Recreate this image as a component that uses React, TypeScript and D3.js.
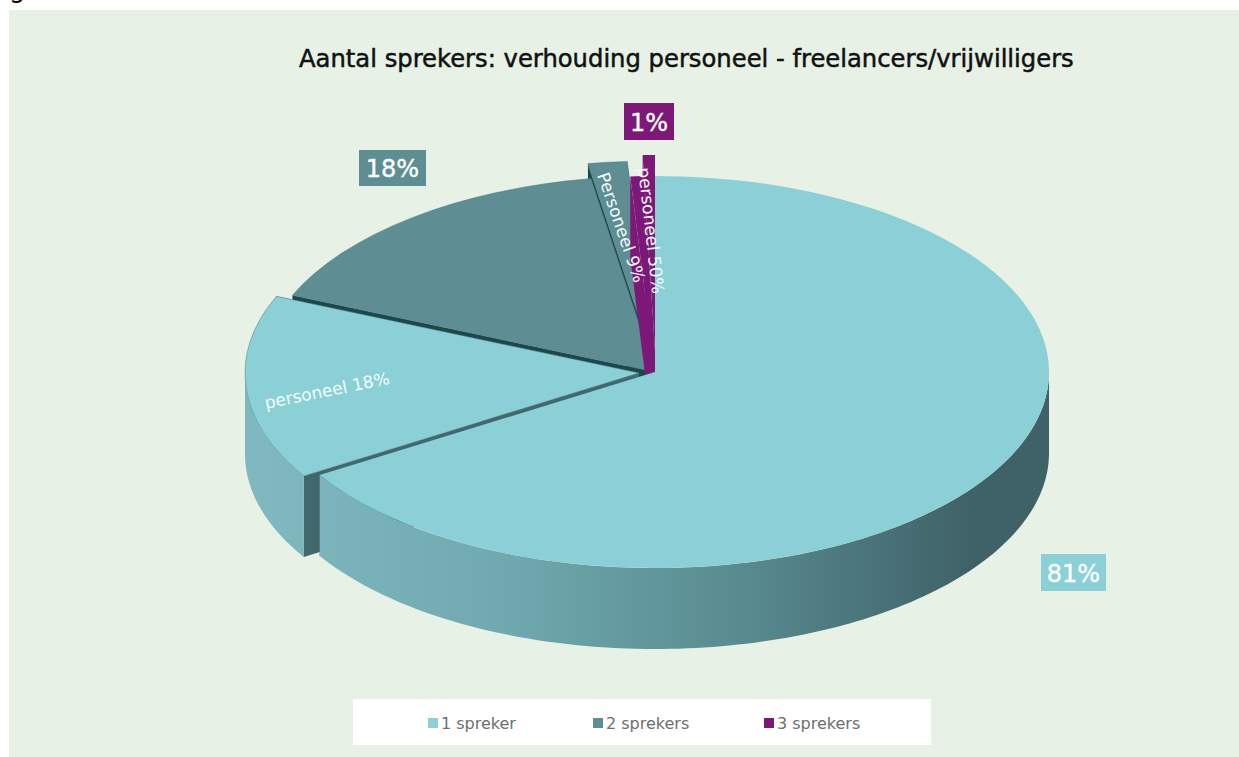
import React from "react";
import * as d3 from "d3";

const titleText = "Aantal sprekers: verhouding personeel - freelancers/vrijwilligers";
const sliceNames = ["1 spreker", "personeel 18%", "2 sprekers", "Personeel 9%", "3 sprekers", "personeel 50%"];
const sliceValues = [66.2, 15.2, 16, 1.6, 0.5, 0.5];
const sliceColors = ["#8ad0d6", "#8ad0d6", "#5e8e93", "#5e8e93", "#7e1878", "#7e1878"];
const sliceCut = ["#3f6268", "#42686e", "#1d474d", "#1d474d", "#7e1878", "#7e1878"];
const sliceEdge = ["none", "#4f7f86", "#4f7f86", "#4f7f86", "none", "none"];
const explodeX = [0, -16, 0, -3, 0, 0];
const explodeY = [0, 1, 0, -15, 0, -21];
const legendNames = ["1 spreker", "2 sprekers", "3 sprekers"];
const legendColors = ["#8ad0d6", "#5e8e93", "#7e1878"];
const legendX = [428, 593, 764];
const paintOrder = [5, 3, 2, 4, 1, 0];

const W = 1239, H = 757;
const cx = 655, cy = 372, rx = 394, ry = 196, depth = 81;
const FONT = "'DejaVu Sans', sans-serif";

const pieGen = d3.pie<number>().sort(null).value((d) => d);
const arcs = pieGen(sliceValues);
const arcGen = d3.arc<any>().innerRadius(0).outerRadius(rx);
const lineGen = d3.line();

function rim(a: number, dx: number, dy: number, down = 0): [number, number] {
  return [cx + dx + rx * Math.sin(a), cy + dy - ry * Math.cos(a) + down];
}

function wallPath(a0: number, a1: number, dx: number, dy: number) {
  const s = Math.max(a0, Math.PI / 2), e = Math.min(a1, (3 * Math.PI) / 2);
  if (e <= s) return null;
  const angles = d3.range(0, 121).map((i) => s + ((e - s) * i) / 120);
  const top = angles.map((a) => rim(a, dx, dy));
  const bottom = angles.slice().reverse().map((a) => rim(a, dx, dy, depth));
  return lineGen([...top, ...bottom]) + "Z";
}

function cutPath(a: number, dx: number, dy: number) {
  const p = rim(a, dx, dy);
  const o: [number, number] = [cx + dx, cy + dy];
  return lineGen([o, p, [p[0], p[1] + depth], [o[0], o[1] + depth]]) + "Z";
}

const boxes = [
  { t: "18%", x: 359, y: 150, w: 67, h: 36, c: "#5e8e93" },
  { t: "1%", x: 624, y: 103, w: 50, h: 37, c: "#7e1878" },
  { t: "81%", x: 1041, y: 554, w: 65, h: 37, c: "#8ad0d6" },
];

const inner = [
  { t: sliceNames[1], x: 266, y: 409, r: -11.5, s: 17 },
  { t: sliceNames[3], x: 597, y: 175, r: 71, s: 17 },
  { t: sliceNames[5], x: 638, y: 168, r: 83.5, s: 17 },
];

export default function App() {
  return (
    <svg width={W} height={H} viewBox={`0 0 ${W} ${H}`} style={{ position: "absolute", left: 0, top: 0, display: "block" }}>
      <defs>
        <linearGradient id="wall" gradientUnits="userSpaceOnUse" x1={cx - rx} x2={cx + rx} y1={0} y2={0}>
          <stop offset="0" stopColor="#7fb9bf" />
          <stop offset="0.3" stopColor="#70aab0" />
          <stop offset="0.6" stopColor="#598c91" />
          <stop offset="0.9" stopColor="#3f6268" />
          <stop offset="1" stopColor="#3f6268" />
        </linearGradient>
      </defs>
      <rect width={W} height={H} fill="#ffffff" />
      <rect x={9} y={10} width={W - 9} height={H - 10} fill="#e7f1e6" />
      <text x={9} y={-3} fontFamily={FONT} fontSize={26} fill="#000">g</text>
      <text x={299} y={67} fontFamily={FONT} fontSize={24.25} stroke="#111" strokeWidth={0.5} fill="#111">{titleText}</text>

      {paintOrder.map((i) => {
        const a = arcs[i];
        const dx = explodeX[i], dy = explodeY[i];
        const wall = wallPath(a.startAngle, a.endAngle, dx, dy);
        return (
          <g key={i}>
            <path d={cutPath(a.startAngle, dx, dy)} fill={sliceCut[i]} />
            <path d={cutPath(a.endAngle, dx, dy)} fill={sliceCut[i]} />
            {wall && <path d={wall} fill="url(#wall)" />}
            <g transform={`translate(${cx + dx},${cy + dy}) scale(1,${ry / rx})`}>
              <path d={arcGen(a) as string} fill={sliceColors[i]} stroke={sliceEdge[i]} strokeWidth={0.5} vectorEffect="non-scaling-stroke" />
            </g>
          </g>
        );
      })}

      {inner.map((d) => (
        <text key={d.t} transform={`translate(${d.x},${d.y}) rotate(${d.r})`} fontFamily={FONT} fontSize={d.s} fill="#f4fbfb">{d.t}</text>
      ))}

      {boxes.map((b) => (
        <g key={b.t}>
          <rect x={b.x} y={b.y} width={b.w} height={b.h} fill={b.c} />
          <text x={b.x + b.w / 2} y={b.y + b.h / 2 + 9} textAnchor="middle" fontFamily={FONT} fontSize={24} stroke="#fff" strokeWidth={0.4} fill="#fff">{b.t}</text>
        </g>
      ))}

      <rect x={353} y={699} width={578} height={46} fill="#ffffff" />
      {legendNames.map((n, i) => (
        <g key={n}>
          <rect x={legendX[i]} y={718} width={10} height={10} fill={legendColors[i]} />
          <text x={legendX[i] + 13} y={729} fontFamily={FONT} fontSize={16} fill="#6e6e6e">{n}</text>
        </g>
      ))}
    </svg>
  );
}
